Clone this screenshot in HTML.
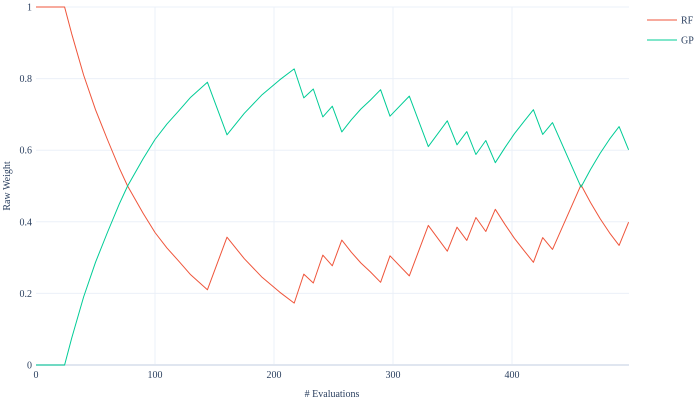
<!DOCTYPE html>
<html><head><meta charset="utf-8"><style>
body{margin:0;background:#fff}
svg{display:block;font-family:"Liberation Serif",serif}
</style></head><body>
<svg id="chart" width="700" height="400"></svg>
<script>
const evals = [0,24,30,40,50,60,70,77,90,100,110,120,130,144,160.5,175,190,205,217,225,233,241,249,257,265,273,281,289.6,297.5,313.7,329.7,345.6,353.8,362,369.7,378,386,394,402,410,418,425.8,434,458,466,474,482,490,498];
const rfValues = [1,1,0.925,0.81,0.713,0.63,0.55,0.5,0.424,0.37,0.327,0.29,0.252,0.21,0.357,0.297,0.245,0.203,0.173,0.254,0.229,0.307,0.277,0.349,0.315,0.285,0.26,0.231,0.305,0.249,0.390,0.318,0.385,0.348,0.412,0.373,0.435,0.393,0.354,0.320,0.287,0.356,0.323,0.503,0.454,0.409,0.369,0.334,0.399];
const gpValues = [0,0,0.075,0.19,0.287,0.37,0.45,0.5,0.576,0.63,0.673,0.71,0.748,0.79,0.643,0.703,0.755,0.797,0.827,0.746,0.771,0.693,0.723,0.651,0.685,0.715,0.74,0.769,0.695,0.751,0.610,0.682,0.615,0.652,0.588,0.627,0.565,0.607,0.646,0.680,0.713,0.644,0.677,0.497,0.546,0.591,0.631,0.666,0.601];
const xTicks = [0,100,200,300,400];
const yTicks = [0,0.2,0.4,0.6,0.8,1];
const yTickLabels = ["0","0.2","0.4","0.6","0.8","1"];

const NS="http://www.w3.org/2000/svg";
const svg=document.getElementById('chart');
const X0=36,X1=629,Y0=365,Y1=7;
const xs=v=>X0+v*1.19;
const ys=w=>Y0-w*(Y0-Y1);
function mk(t,a){const e=document.createElementNS(NS,t);for(const k in a)e.setAttribute(k,a[k]);svg.appendChild(e);return e;}

xTicks.forEach(t=>{
  if(t>0){const g=mk('line',{x1:xs(t),x2:xs(t),y1:Y1,y2:Y0,stroke:'#ebf0f8','stroke-width':1});
  
  }
  const l=mk('text',{x:xs(t),y:378,'text-anchor':'middle','font-size':10,fill:'#2a3f5f'});
  
  
  l.textContent=t;
});
yTicks.forEach((t,i)=>{
  const g=mk('line',{x1:X0,x2:X1,y1:ys(t),y2:ys(t),stroke:t===0?'#e0e6f0':'#ebf0f8','stroke-width':t===0?2:1});
  
  
  const l=mk('text',{x:32,y:ys(t)+3.5,'text-anchor':'end','font-size':10,fill:'#2a3f5f'});
  
  
  l.textContent=yTickLabels[i];
});
function line(vals,color,name){
  const d=evals.map((v,i)=>(i?'L':'M')+xs(v).toFixed(1)+','+ys(vals[i]).toFixed(1)).join('');
  const p=mk('path',{d:d,fill:'none',stroke:color,'stroke-width':1,'stroke-linejoin':'round'});
  
  
}
line(rfValues,'#ef553b','rf-line');
line(gpValues,'#00cc96','gp-line');

const xt=mk('text',{x:332,y:397,'text-anchor':'middle','font-size':10,fill:'#2a3f5f'});


xt.textContent='# Evaluations';
const yt=mk('text',{x:0,y:0,'text-anchor':'middle','font-size':10,fill:'#2a3f5f',transform:'translate(10,186) rotate(-90)'});


yt.textContent='Raw Weight';

[['RF','#ef553b',20],['GP','#00cc96',40]].forEach(([n,c,y])=>{
  const g=mk('line',{x1:647,x2:677,y1:y,y2:y,stroke:c,'stroke-width':1});
  
  
  const t=mk('text',{x:681,y:y+3.5,'font-size':10,fill:'#2a3f5f'});
  
  
  t.textContent=n;
});
</script>
</body></html>
